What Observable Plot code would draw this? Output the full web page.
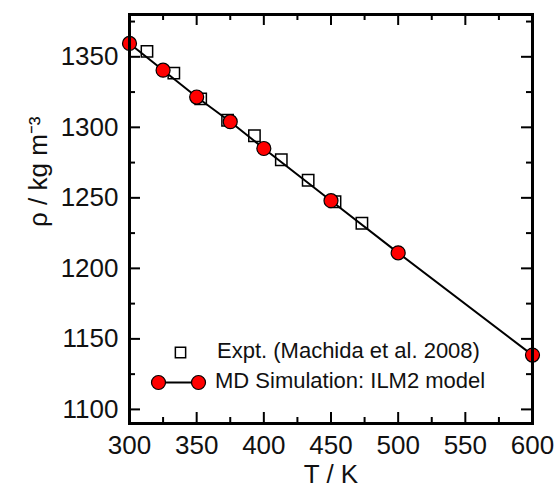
<!DOCTYPE html>
<html><head><meta charset="utf-8">
<script src="https://cdn.jsdelivr.net/npm/d3@7"></script>
<script src="https://cdn.jsdelivr.net/npm/@observablehq/plot@0.6"></script>
<style>
body{margin:0;background:#fff}
#wrap{position:relative;width:558px;height:485px}
#chart svg{font-family:"Liberation Sans",Arial,Helvetica,sans-serif}
.leg{position:absolute;font:22px/22px "Liberation Sans",Arial,sans-serif;color:#111;white-space:nowrap}
</style>
</head><body><div id="wrap"><div id="chart"></div><div id="legend"></div></div>
<script>
// MD simulation (ILM2 model)
const mdT = [300, 325, 350, 375, 400, 450, 500, 600];
const mdRho = [1359.5, 1340.5, 1321.5, 1304, 1285, 1248, 1211, 1138.5];
// Experiment (Machida et al. 2008)
const exptT = [313, 333, 353, 373, 393, 413, 433, 453, 473];
const exptRho = [1353.8, 1338.4, 1320.2, 1305, 1294, 1277, 1262.5, 1247.2, 1232];
// ticks
const xMajor = [300, 350, 400, 450, 500, 550, 600];
const xMinor = [325, 375, 425, 475, 525, 575];
const yMajor = [1100, 1150, 1200, 1250, 1300, 1350];
const yMinor = [1125, 1175, 1225, 1275, 1325, 1375];
const legendLabels = ["Expt. (Machida et al. 2008)", "MD Simulation: ILM2 model"];
const xTitle = "T / K";
const yTitle = "ρ / kg m⁻³";

const md = mdT.map((t, i) => ({T: t, rho: mdRho[i]}));
const expt = exptT.map((t, i) => ({T: t, rho: exptRho[i]}));

const W = 558, H = 485, mL = 129, mR = 26, mT = 14, mB = 62;
const innerW = W - mL - mR, innerH = H - mT - mB;
const tickStyle = {stroke: "black", strokeWidth: 2};
const legendLine = {draw(ctx) { ctx.moveTo(-20, 0); ctx.lineTo(20, 0); }};

const chart = Plot.plot({
  width: W, height: H,
  marginLeft: mL, marginRight: mR, marginTop: mT, marginBottom: mB,
  style: {fontSize: "26px", fontFamily: "Liberation Sans, Arial, sans-serif", color: "#111"},
  x: {domain: [300, 600]},
  y: {domain: [1090, 1380]},
  marks: [
    Plot.line(md, {x: "T", y: "rho", stroke: "black", strokeWidth: 2}),
    Plot.dot(expt, {x: "T", y: "rho", symbol: "square", r: 6.4, stroke: "black", strokeWidth: 1.5, fill: "none"}),
    Plot.dot(md, {x: "T", y: "rho", r: 7, fill: "#ff0000", stroke: "black", strokeWidth: 1.2}),
    // inward ticks on all four sides
    Plot.tickX(xMajor, {x: d => d, insetTop: innerH - 11, ...tickStyle}),
    Plot.tickX(xMinor, {x: d => d, insetTop: innerH - 6, ...tickStyle}),
    Plot.tickX(xMajor, {x: d => d, insetBottom: innerH - 11, ...tickStyle}),
    Plot.tickX(xMinor, {x: d => d, insetBottom: innerH - 6, ...tickStyle}),
    Plot.tickY(yMajor, {y: d => d, insetRight: innerW - 11, ...tickStyle}),
    Plot.tickY(yMinor, {y: d => d, insetRight: innerW - 6, ...tickStyle}),
    Plot.tickY(yMajor, {y: d => d, insetLeft: innerW - 11, ...tickStyle}),
    Plot.tickY(yMinor, {y: d => d, insetLeft: innerW - 6, ...tickStyle}),
    Plot.frame({stroke: "black", strokeWidth: 3}),
    Plot.axisX({ticks: xMajor, tickSize: 0, tickPadding: 12, label: null, tickFormat: d => String(d), fontSize: 26}),
    Plot.axisY({ticks: yMajor, tickSize: 0, tickPadding: 11, label: null, tickFormat: d => String(d), fontSize: 26}),
    Plot.text([xTitle], {frameAnchor: "bottom", text: d => d, dy: 51, lineAnchor: "middle", fontSize: 26}),
    Plot.text([yTitle], {frameAnchor: "left", text: d => d, rotate: -90, dx: -91, dy: 8, lineAnchor: "middle", fontSize: 26}),
    // legend symbols
    Plot.dot([legendLabels[0]], {frameAnchor: "bottom-left", dx: 51, dy: -71, symbol: "square", r: 5.8, stroke: "black", strokeWidth: 1.5, fill: "none"}),
    Plot.dot([legendLabels[1]], {frameAnchor: "bottom-left", dx: 49, dy: -41, symbol: legendLine, fill: "none", stroke: "black", strokeWidth: 2}),
    Plot.dot([legendLabels[1]], {frameAnchor: "bottom-left", dx: 29, dy: -41, r: 7, fill: "#ff0000", stroke: "black", strokeWidth: 1.2}),
    Plot.dot([legendLabels[1]], {frameAnchor: "bottom-left", dx: 69, dy: -41, r: 7, fill: "#ff0000", stroke: "black", strokeWidth: 1.2})
  ]
});
document.getElementById("chart").appendChild(chart);

// legend labels as HTML text, placed next to the legend symbols
const legendPos = [{left: mL + 88, top: H - mB - 71 - 11.6}, {left: mL + 86, top: H - mB - 41 - 11.6}];
legendLabels.forEach((label, i) => {
  const div = document.createElement("div");
  div.className = "leg";
  div.style.left = legendPos[i].left + "px";
  div.style.top = legendPos[i].top + "px";
  div.textContent = label;
  document.getElementById("legend").appendChild(div);
});
</script>
</body></html>
